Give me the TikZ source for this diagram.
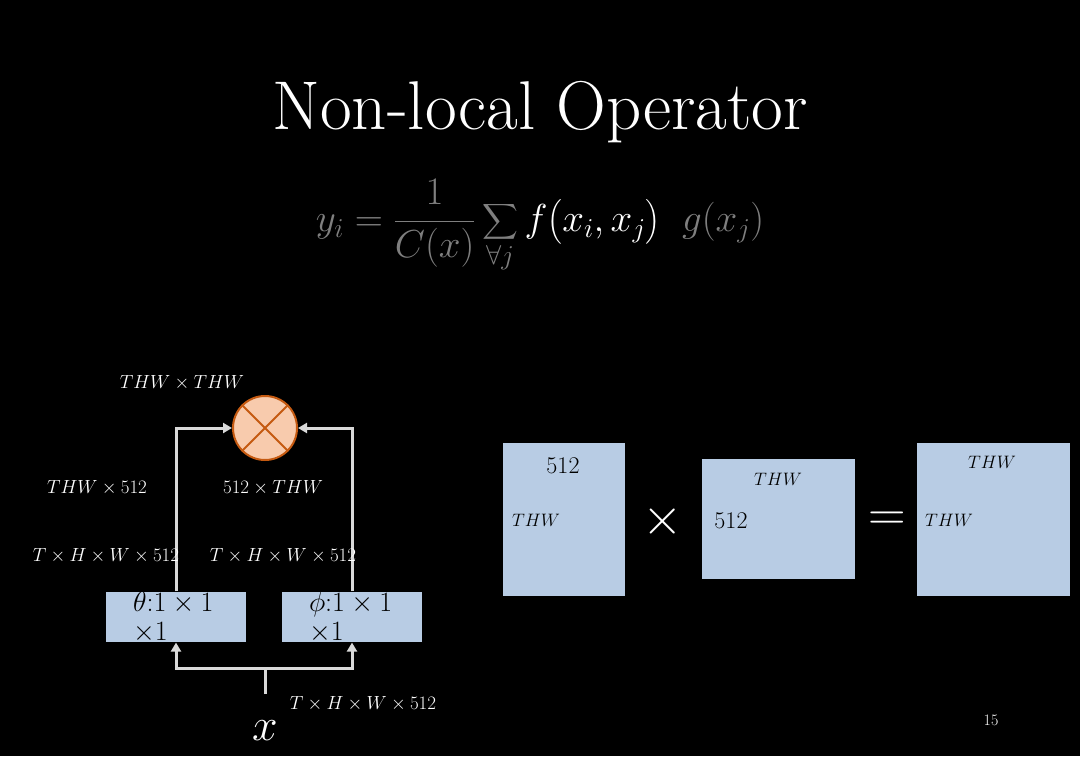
\RequirePackage{fix-cm}
\documentclass[tikz,border=0pt]{standalone}
\usepackage{amsmath}
\usetikzlibrary{arrows.meta,positioning}
\definecolor{boxblue}{HTML}{B8CCE4}
\definecolor{peach}{HTML}{F8CBAD}
\definecolor{rust}{HTML}{C55A11}
\definecolor{wire}{HTML}{D9D9D9}
\definecolor{eqgray}{HTML}{7F7F7F}
\tikzset{
  dimlbl/.style={text=white,font=\fontsize{19}{22}\selectfont},
  convbox/.style={fill=boxblue,minimum width=140pt,minimum height=50pt,inner sep=0pt,
    text width=86pt,align=left,font=\fontsize{28}{29}\selectfont},
  mtx/.style={fill=boxblue,inner sep=0pt},
  mtxlbl/.style={text=black,font=\fontsize{18}{22}\selectfont},
  mtxnum/.style={text=black,font=\fontsize{24}{26}\selectfont},
  bigop/.style={text=white,font=\fontsize{52}{56}\selectfont},
  wireline/.style={draw=wire,line width=3pt},
  wirearrow/.style={wireline,-{Triangle[length=9pt,width=10pt]}}
}

\begin{document}
\begin{tikzpicture}[x=1pt,y=-1pt]
    \fill[black] (0,0) rectangle (1080,756);
    \useasboundingbox (0,0) rectangle (1080,756);
    \node[text=white,font=\fontsize{69}{72}\selectfont] (title) at (540,112) {Non-local Operator};
    \node[text=eqgray,font=\fontsize{39}{44}\selectfont] (eq) at (540,226) {$\displaystyle y_i=\frac{1}{C(x)}\sum_{\forall j}\textcolor{white}{f\bigl(x_i,x_j\bigr)}\;\;g(x_j)$};

    \node[circle,fill=peach,draw=rust,line width=2pt,minimum size=64pt,inner sep=0pt] (mult) at (265,428) {};
    \draw[rust,line width=2pt] (mult.north west) -- (mult.south east) (mult.north east) -- (mult.south west);
    \node[convbox] (theta) at (176,617) {$\theta{:}1\times1$\\$\times1$};
    \node[convbox] (phi) at (352,617) {$\phi{:}1\times1$\\$\times1$};
    \node[text=white,font=\fontsize{46}{50}\selectfont] (input) at (265,731) {$x$};
    \coordinate (stem) at (265,694);
    \coordinate (split) at (265,668);

    \draw[wirearrow] (theta.north) |- (mult.west);
    \draw[wirearrow] (phi.north) |- (mult.east);
    \draw[wireline] (stem) -- (split);
    \draw[wirearrow] (split) -| (theta.south);
    \draw[wirearrow] (split) -| (phi.south);

    \node[dimlbl] at (182,383) {$THW\times THW$};
    \node[dimlbl] at (97,488) {$THW\times512$};
    \node[dimlbl] at (273,488) {$512\times THW$};
    \node[dimlbl] at (106,556) {$T\times H\times W\times512$};
    \node[dimlbl] at (283,556) {$T\times H\times W\times512$};
    \node[dimlbl] at (363,704) {$T\times H\times W\times512$};

    \node[mtx,minimum width=122pt,minimum height=153pt] (matA) at (564,519.5) {};
    \node[mtx,minimum width=153pt,minimum height=120pt] (matB) at (778.5,519) {};
    \node[mtx,minimum width=153pt,minimum height=153pt] (matC) at (993.5,519.5) {};
    \node[bigop] (times) at (663,521) {$\times$};
    \node[bigop] (equals) at (887,521) {$=$};
    \node[mtxnum] at (563,466) {512};
    \node[mtxlbl] at (536,520) {$THW$};
    \node[mtxlbl] at (778,479) {$THW$};
    \node[mtxnum] at (731,521) {512};
    \node[mtxlbl] at (992,462) {$THW$};
    \node[mtxlbl] at (949,520) {$THW$};

    \node[text=white,font=\fontsize{16}{18}\selectfont] (page) at (991,720) {15};
\end{tikzpicture}
\end{document}
